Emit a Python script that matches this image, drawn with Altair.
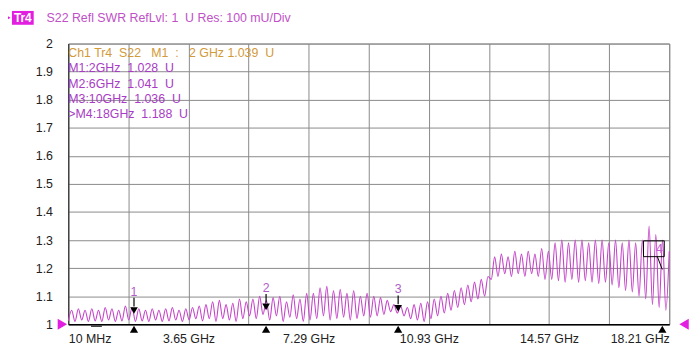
import altair as alt
import numpy as np
import pandas as pd

# ---- data ----
# SWR trace: troughs and peaks of each ripple period (10 divisions x 9 periods)
troughs = [
    1.012, 1.010, 1.015, 1.010, 1.012, 1.010, 1.015, 1.010, 1.012,
    1.015, 1.010, 1.012, 1.010, 1.015, 1.010, 1.012, 1.015, 1.010,
    1.015, 1.020, 1.012, 1.020, 1.010, 1.020, 1.015, 1.010, 1.020,
    1.030, 1.020, 1.035, 1.015, 1.030, 1.010, 1.025, 1.020, 1.010,
    1.015, 1.020, 1.030, 1.015, 1.020, 1.025, 1.015, 1.020, 1.030,
    1.025, 1.030, 1.035, 1.045, 1.040, 1.030, 1.020, 1.015, 1.010,
    1.020, 1.030, 1.040, 1.050, 1.060, 1.070, 1.080, 1.090, 1.100,
    1.160, 1.170, 1.180, 1.170, 1.180, 1.170, 1.180, 1.170, 1.160,
    1.160, 1.155, 1.150, 1.160, 1.150, 1.155, 1.150, 1.145, 1.150,
    1.140, 1.130, 1.120, 1.115, 1.100, 1.090, 1.070, 1.060, 1.050,
]
peaks = [
    1.050, 1.055, 1.050, 1.055, 1.050, 1.060, 1.055, 1.050, 1.065,
    1.060, 1.055, 1.050, 1.055, 1.050, 1.055, 1.060, 1.050, 1.055,
    1.060, 1.065, 1.070, 1.080, 1.085, 1.070, 1.075, 1.090, 1.080,
    1.090, 1.100, 1.085, 1.095, 1.100, 1.080, 1.105, 1.090, 1.110,
    1.110, 1.130, 1.135, 1.120, 1.125, 1.110, 1.120, 1.100, 1.110,
    1.100, 1.095, 1.085, 1.070, 1.065, 1.060, 1.070, 1.075, 1.080,
    1.090, 1.100, 1.110, 1.120, 1.130, 1.140, 1.150, 1.160, 1.170,
    1.240, 1.250, 1.240, 1.260, 1.250, 1.260, 1.250, 1.270, 1.260,
    1.290, 1.300, 1.290, 1.300, 1.300, 1.290, 1.300, 1.300, 1.290,
    1.300, 1.290, 1.300, 1.290, 1.300, 1.350, 1.320, 1.300, 1.260,
]
f_start, f_stop = 0.01, 18.21  # GHz

x_ticks = [0.01, 1.83, 3.65, 5.47, 7.29, 9.11, 10.93, 12.75, 14.57, 16.39, 18.21]
x_labelled = [3.65, 7.29, 10.93, 14.57, 18.21]
y_ticks = [1.0, 1.1, 1.2, 1.3, 1.4, 1.5, 1.6, 1.7, 1.8, 1.9, 2.0]

marker_freq = [2, 6, 10, 18]
marker_val = [1.028, 1.041, 1.036, 1.188]
marker_name = ["1", "2", "3", "4"]

title_text = "S22 Refl SWR RefLvl: 1\u00a0 U Res: 100 mU/Div"
readout_head = "Ch1 Tr4\u00a0 S22\u00a0\u00a0 M1\u00a0 :\u00a0\u00a0 2 GHz 1.039\u00a0 U"
readout_lines = [
    "M1:2GHz\u00a0 1.028\u00a0 U",
    "M2:6GHz\u00a0 1.041\u00a0 U",
    "M3:10GHz\u00a0 1.036\u00a0 U",
    ">M4:18GHz\u00a0 1.188\u00a0 U",
]

# ---- build tables ----
vals = []
for t, p in zip(troughs, peaks):
    vals += [t, p]
trace = pd.DataFrame({"f": np.linspace(f_start, f_stop, len(vals)), "swr": vals})
mk = pd.DataFrame({"f": marker_freq, "swr": marker_val, "n": marker_name})
mk123 = mk.iloc[:3]
mk4 = mk.iloc[3:]
one = pd.DataFrame({"a": [0]})

FONT = "Liberation Sans"
TRACE = "#c443c8"
PURPLE = "#a83cc4"
GOLD = "#d29a3a"
MAG = "#e21fe0"
GRID = "#8a8a8a"

xs = alt.Scale(domain=[f_start, f_stop], nice=False, zero=False)
ys = alt.Scale(domain=[1, 2], nice=False, zero=False)

label_expr = (
    "datum.value < 0.1 ? '10 MHz' : (indexof(" + str(x_labelled) +
    ", datum.value) >= 0 ? format(datum.value, '.2f') + ' GHz' : '')"
)

xaxis = alt.Axis(values=x_ticks, labelExpr=label_expr, labelFlush=True, ticks=False,
                 grid=True, gridColor=GRID, gridWidth=1, domainColor="#000",
                 domainWidth=1.5, labelPadding=8, title=None, labelFont=FONT,
                 labelFontSize=12.5, labelColor="#222", labelOverlap=False)
yaxis = alt.Axis(values=y_ticks, labelExpr="format(datum.value, '~g')", ticks=False,
                 grid=True, gridColor=GRID, gridWidth=1, domainColor="#222",
                 domainWidth=1, labelPadding=16, title=None, labelFont=FONT,
                 labelFontSize=12.5, labelColor="#222", labelOverlap=False,
                 labelFlush=False)

X = alt.X("f:Q", scale=xs, axis=xaxis)
Y = alt.Y("swr:Q", scale=ys, axis=yaxis)

line = alt.Chart(trace).mark_line(color=TRACE, strokeWidth=1.1,
                                  interpolate="monotone").encode(x=X, y=Y)

base_mk = alt.Chart(mk123).encode(x=X, y=Y)
stems = base_mk.mark_rule(color="#000", strokeWidth=1.2, yOffset=-19, y2Offset=-10).encode(
    y2=alt.Y2("swr:Q"))
tri = base_mk.mark_point(shape="triangle-down", filled=True, color="#000", size=60,
                         opacity=1, yOffset=-6)
nums = base_mk.mark_text(color="#b060c8", font=FONT, fontSize=12.5, yOffset=-25).encode(
    text="n:N")

base4 = alt.Chart(mk4).encode(x=X, y=Y)
box4 = base4.mark_rect(fill="transparent", stroke="#000", strokeWidth=1,
                       xOffset=-19, x2Offset=2, yOffset=-31, y2Offset=-15).encode(
    x2=alt.X2("f:Q"), y2=alt.Y2("swr:Q"))
conn4 = base4.mark_rule(color="#000", strokeWidth=1, xOffset=-5, yOffset=-15,
                        x2Offset=0, y2Offset=-2).encode(x2=alt.X2("f:Q"), y2=alt.Y2("swr:Q"))
num4 = base4.mark_text(color="#c060d0", font=FONT, fontSize=12.5, xOffset=-3,
                       yOffset=-23).encode(text="n:N")

bottom_tri = alt.Chart(mk).mark_point(shape="triangle-up", filled=True, color="#000",
                                      size=70, opacity=1).encode(x=X, y=alt.value(289))

dash = alt.Chart(one).mark_rule(color="#000", strokeWidth=1).encode(
    x=alt.value(23), x2=alt.value(34), y=alt.value(286))
left_tri = alt.Chart(one).mark_point(shape="triangle-right", filled=True, color=MAG,
                                     size=120, opacity=1).encode(
    x=alt.value(-6), y=alt.value(284))
right_tri = alt.Chart(one).mark_point(shape="triangle-left", filled=True, color=MAG,
                                      size=120, opacity=1).encode(
    x=alt.value(623), y=alt.value(284))

hdr_tri = alt.Chart(one).mark_point(shape="triangle-right", filled=True, color=MAG,
                                    size=70, opacity=1).encode(
    x=alt.value(-62), y=alt.value(-26))
hdr_box = alt.Chart(one).mark_rect(color=MAG).encode(
    x=alt.value(-57), x2=alt.value(-35), y=alt.value(-33), y2=alt.value(-19))
hdr_txt = alt.Chart(one).mark_text(color="#fff", font=FONT, fontSize=12, fontWeight="bold",
                                   align="center", baseline="middle").encode(
    x=alt.value(-46), y=alt.value(-25.5), text=alt.value("Tr4"))
title = alt.Chart(one).mark_text(color="#c050c8", font=FONT, fontSize=12.5, align="left",
                                 baseline="middle").encode(
    x=alt.value(-22), y=alt.value(-26), text=alt.value(title_text))

read_layers = [alt.Chart(one).mark_text(color=GOLD, font=FONT, fontSize=12.5, align="left",
                                        baseline="middle").encode(
    x=alt.value(0), y=alt.value(10), text=alt.value(readout_head))]
for i, s in enumerate(readout_lines):
    read_layers.append(alt.Chart(one).mark_text(color=PURPLE, font=FONT, fontSize=12.5,
                                                align="left", baseline="middle").encode(
        x=alt.value(0), y=alt.value(25 + 15.5 * i), text=alt.value(s)))

chart = alt.layer(
    line, stems, tri, nums, box4, conn4, num4, bottom_tri, dash, left_tri, right_tri,
    hdr_tri, hdr_box, hdr_txt, title, *read_layers
).properties(
    width=608, height=284,
    autosize=alt.AutoSizeParams(type="none"),
    padding={"left": 61, "top": 34, "right": 20, "bottom": 19},
    background="#ffffff",
).configure_view(stroke=GRID, strokeWidth=1)

chart.save("out.html", embed_options={"renderer": "svg", "actions": False})
